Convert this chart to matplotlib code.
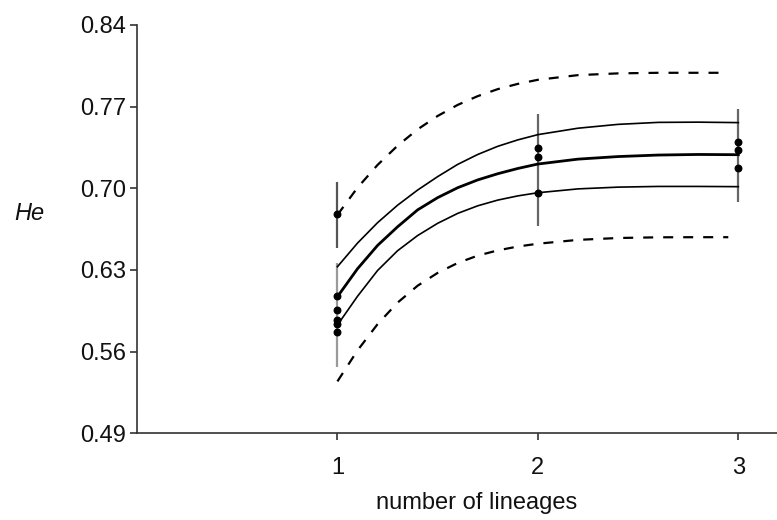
import matplotlib
matplotlib.use("Agg")
import matplotlib.pyplot as plt

# ---- data ----
x_upper_solid = [1.0, 1.1, 1.2, 1.3, 1.4, 1.5, 1.6, 1.7, 1.8, 1.9, 2.0, 2.2, 2.4, 2.6, 2.8, 3.0]
y_upper_solid = [0.6328, 0.6530, 0.6705, 0.6855, 0.6985, 0.7100, 0.7205, 0.7290, 0.7360,
                 0.7415, 0.7460, 0.7515, 0.7548, 0.7565, 0.7567, 0.7563]

x_mid = [1.0, 1.1, 1.2, 1.3, 1.4, 1.5, 1.6, 1.7, 1.8, 1.9, 2.0, 2.2, 2.4, 2.6, 2.8, 3.0]
y_mid = [0.6071, 0.6310, 0.6510, 0.6670, 0.6815, 0.6920, 0.7005, 0.7072, 0.7125,
         0.7170, 0.7208, 0.7250, 0.7272, 0.7285, 0.7290, 0.7288]

x_lower_solid = [1.0, 1.1, 1.2, 1.3, 1.4, 1.5, 1.6, 1.7, 1.8, 1.9, 2.0, 2.2, 2.4, 2.6, 2.8, 3.0]
y_lower_solid = [0.5828, 0.6074, 0.6295, 0.6465, 0.6595, 0.6700, 0.6785, 0.6850, 0.6899,
                 0.6935, 0.6962, 0.6995, 0.7010, 0.7016, 0.7016, 0.7014]

x_upper_dash = [1.0, 1.1, 1.2, 1.3, 1.4, 1.5, 1.6, 1.7, 1.8, 1.9, 2.0, 2.2, 2.4, 2.6, 2.8, 2.95]
y_upper_dash = [0.6772, 0.7005, 0.7200, 0.7365, 0.7505, 0.7620, 0.7715, 0.7790, 0.7850,
                0.7895, 0.7930, 0.7970, 0.7985, 0.7990, 0.7990, 0.7990]

x_lower_dash = [1.0, 1.1, 1.2, 1.3, 1.4, 1.5, 1.6, 1.7, 1.8, 1.9, 2.0, 2.2, 2.4, 2.6, 2.8, 2.95]
y_lower_dash = [0.5345, 0.5610, 0.5835, 0.6020, 0.6165, 0.6275, 0.6360, 0.6423, 0.6468,
                0.6501, 0.6525, 0.6558, 0.6574, 0.6580, 0.6581, 0.6581]

point_x = [1, 1, 1, 1, 1, 1, 2, 2, 2, 3, 3, 3]
point_y = [0.678, 0.6075, 0.596, 0.587, 0.5835, 0.5766,
           0.7348, 0.7266, 0.6963, 0.7397, 0.7326, 0.7175]

err_x = [1, 1, 2, 3]
err_lo = [0.6487, 0.5466, 0.6678, 0.6886]
err_hi = [0.7053, 0.6358, 0.7635, 0.7678]
err_col = ["#555555", "#9a9a9a", "#666666", "#666666"]

x_ticks = [1, 2, 3]
y_ticks = [0.49, 0.56, 0.63, 0.70, 0.77, 0.84]
y_tick_labels = ["0.49", "0.56", "0.63", "0.70", "0.77", "0.84"]

plt.rcParams['font.family'] = ['Liberation Sans', 'DejaVu Sans']

fig = plt.figure(figsize=(7.77, 5.20), dpi=100)
ax = fig.add_axes([0.1763, 0.1667, 0.8237, 0.7853])

# error bars
ax.vlines(err_x, err_lo, err_hi, colors=err_col, linewidth=1.6, zorder=2)

# curves
ax.plot(x_upper_dash, y_upper_dash, color="black", linewidth=1.6,
        linestyle=(0, (4.5, 4.5)), zorder=3)
ax.plot(x_lower_dash, y_lower_dash, color="black", linewidth=1.6,
        linestyle=(0, (4.5, 4.5)), zorder=3)
ax.plot(x_upper_solid, y_upper_solid, color="black", linewidth=1.2, zorder=3)
ax.plot(x_lower_solid, y_lower_solid, color="black", linewidth=1.2, zorder=3)
ax.plot(x_mid, y_mid, color="black", linewidth=2.0, zorder=3)

# points
ax.scatter(point_x, point_y, s=22, color="black", zorder=4)

ax.set_xlim(0, 3.193)
ax.set_ylim(0.49, 0.84)
ax.set_xticks(x_ticks)
ax.set_xticklabels([str(t) for t in x_ticks])
ax.set_yticks(y_ticks)
ax.set_yticklabels(y_tick_labels)

for s in ["top", "right"]:
    ax.spines[s].set_visible(False)
for s in ["left", "bottom"]:
    ax.spines[s].set_color("#333333")
    ax.spines[s].set_linewidth(1.2)

ax.tick_params(axis="both", direction="out", length=5, width=1.2,
               color="#333333", labelsize=17, labelcolor="#111111")
ax.tick_params(axis="x", pad=12)
ax.tick_params(axis="y", pad=3)

ax.set_xlabel("number of lineages", fontsize=17, color="#111111")
ax.xaxis.set_label_coords((477 - 137) / 640, (433 - 503) / 408.3)
ax.xaxis.label.set_va("center")
fig.text(29 / 777, 1 - 214 / 520, "He", fontsize=17, style="italic",
         ha="center", va="center", color="#111111")

fig.savefig("out.png", dpi=100)
